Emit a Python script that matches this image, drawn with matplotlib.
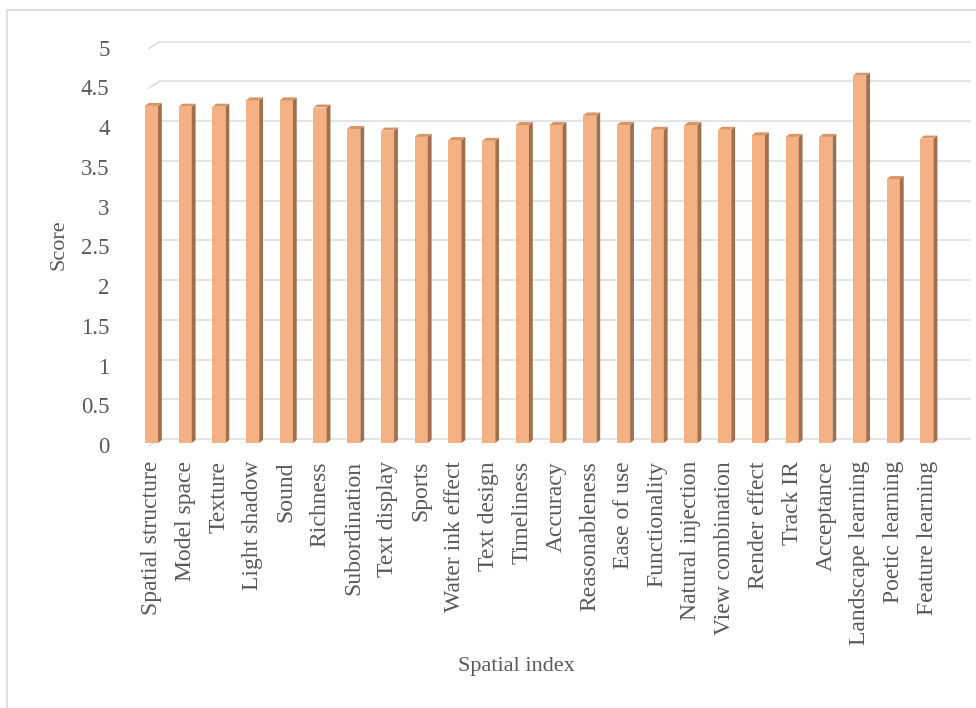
import numpy as np
import matplotlib
matplotlib.use("Agg")
import matplotlib.pyplot as plt
from matplotlib.collections import PolyCollection
from matplotlib.lines import Line2D
import matplotlib.transforms as mtransforms

categories = ["Spatial structure", "Model space", "Texture", "Light shadow", "Sound", "Richness",
              "Subordination", "Text display", "Sports", "Water ink effect", "Text design",
              "Timeliness", "Accuracy", "Reasonableness", "Ease of use", "Functionality",
              "Natural injection", "View combination", "Render effect", "Track IR", "Acceptance",
              "Landscape learning", "Poetic learning", "Feature learning"]
scores = [4.24, 4.23, 4.23, 4.31, 4.31, 4.22, 3.95, 3.93, 3.85, 3.81, 3.80,
          4.00, 4.00, 4.12, 4.00, 3.94, 4.00, 3.94, 3.87, 3.85, 3.85, 4.62, 3.32, 3.83]
yticks = [0, 0.5, 1, 1.5, 2, 2.5, 3, 3.5, 4, 4.5, 5]
ytick_labels = ["0", "0.5", "1", "1.5", "2", "2.5", "3", "3.5", "4", "4.5", "5"]

FRONT, SIDE, TOP = "#F4B183", "#A26F4B", "#D89568"
GRID, TXT = "#DCDCDC", "#595959"
W, H = 976, 708

plt.rcParams["font.family"] = ["Liberation Serif", "DejaVu Serif"]
fig = plt.figure(figsize=(W / 100, H / 100), dpi=100)

# axes placed in pixels: bar plane y=0 at 443px, y=5 at 45.5px
left, right, top, bottom = 134.6, 943.9, 45.5, 443
ax = fig.add_axes([left / W, 1 - bottom / H, (right - left) / W, (bottom - top) / H])
ax.set_xlim(-0.5, len(categories) - 0.5)
ax.set_ylim(0, 5)
px_x = 1 / 33.72   # data units per pixel
px_y = 1 / 79.5

x = np.arange(len(categories))
v = np.array(scores)

# back wall gridlines with slanted left edge (3D look)
for t in yticks:
    ax.add_line(Line2D([-0.08, 0.25], [t - 3 * px_y, t + 4 * px_y], color=GRID, lw=1.1, clip_on=False))
    ax.add_line(Line2D([0.25, 24.27], [t + 4 * px_y, t + 4 * px_y], color=GRID, lw=1.1, clip_on=False))

# columns: front face + side + top
bw = 0.39
dx, dy = 3.8 * px_x, 3 * px_y
ax.bar(x, v, width=bw, color=FRONT, zorder=3)
xl, xr = x - bw / 2, x + bw / 2
sides = [[(a, 0), (a + dx, dy), (a + dx, h + dy), (a, h)] for a, h in zip(xr, v)]
tops = [[(a, h), (b, h), (b + dx, h + dy), (a + dx, h + dy)] for a, b, h in zip(xl, xr, v)]
ax.add_collection(PolyCollection(sides, facecolors=SIDE, edgecolors="none", zorder=3, clip_on=False))
ax.add_collection(PolyCollection(tops, facecolors=TOP, edgecolors="none", zorder=3, clip_on=False))

for s in ax.spines.values():
    s.set_visible(False)
ax.set_yticks(yticks)
ax.set_yticklabels(ytick_labels)
ax.set_xticks(x)
ax.set_xticklabels(categories, rotation=90, va="top", ha="center")
ax.tick_params(axis="y", length=0, pad=18, labelsize=16.5, labelcolor=TXT)
ax.tick_params(axis="x", length=0, pad=13, labelsize=17, labelcolor=TXT)
off = mtransforms.ScaledTranslation(0, -1.5 / 72, fig.dpi_scale_trans)
for lab in ax.get_yticklabels():
    lab.set_transform(lab.get_transform() + off)

fig.text(516.5 / W, 1 - 667 / H, "Spatial index", ha="center", va="center", fontsize=16, color=TXT)
fig.text(59 / W, 1 - 245 / H, "Score", ha="center", va="center", rotation=90, fontsize=16, color=TXT)

# chart frame (only left and top edges fall inside the picture)
fig.add_artist(Line2D([7 / W, 7 / W], [0, 1 - 10 / H], color=GRID, lw=1.2, transform=fig.transFigure))
fig.add_artist(Line2D([7 / W, 1], [1 - 10 / H, 1 - 10 / H], color=GRID, lw=1.2, transform=fig.transFigure))

fig.savefig("out.png", dpi=100)
